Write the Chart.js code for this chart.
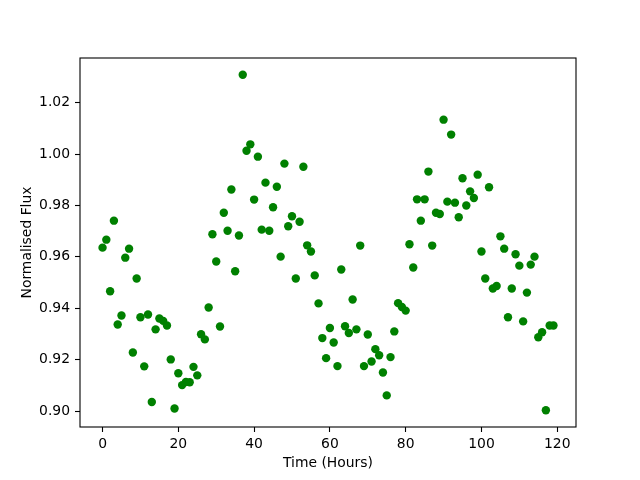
<!DOCTYPE html>
<html>
<head>
<meta charset="utf-8">
<script src="https://cdn.jsdelivr.net/npm/chart.js@4"></script>
<style>
  html, body { margin: 0; padding: 0; background: #fff; }
  #wrap { width: 640px; height: 480px; }
</style>
</head>
<body>
<div id="wrap"><canvas id="grafico" width="640" height="480"></canvas></div>
<script>
// time of each measurement (hours)
const horas = [
  0, 1, 2, 3, 4, 5, 6, 7, 8, 9, 10, 11, 12, 13, 14, 15, 16, 17, 18, 19,
  20, 21, 22, 23, 24, 25, 26, 27, 28, 29, 30, 31, 32, 33, 34, 35, 36, 37, 38, 39,
  40, 41, 42, 43, 44, 45, 46, 47, 48, 49, 50, 51, 52, 53, 54, 55, 56, 57, 58, 59,
  60, 61, 62, 63, 64, 65, 66, 67, 68, 69, 70, 71, 72, 73, 74, 75, 76, 77, 78, 79,
  80, 81, 82, 83, 84, 85, 86, 87, 88, 89, 90, 91, 92, 93, 94, 95, 96, 97, 98, 99,
  100, 101, 102, 103, 104, 105, 106, 107, 108, 109, 110, 111, 112, 113, 114, 115, 116, 117, 118, 119
]

// normalised flux
const fluxo = [
  0.9636, 0.9667, 0.9466, 0.9741, 0.9337, 0.9372, 0.9597, 0.9632, 0.9228, 0.9516,
  0.9365, 0.9174, 0.9376, 0.9035, 0.9318, 0.9360, 0.9351, 0.9333, 0.9201, 0.9010,
  0.9147, 0.9101, 0.9113, 0.9112, 0.9172, 0.9139, 0.9299, 0.9279, 0.9403, 0.9688,
  0.9582, 0.9329, 0.9772, 0.9702, 0.9862, 0.9544, 0.9683, 1.0309, 1.0013, 1.0038,
  0.9823, 0.9990, 0.9706, 0.9889, 0.9702, 0.9793, 0.9873, 0.9601, 0.9963, 0.9719,
  0.9758, 0.9516, 0.9737, 0.9951, 0.9645, 0.9621, 0.9528, 0.9419, 0.9284, 0.9206,
  0.9323, 0.9267, 0.9175, 0.9551, 0.9330, 0.9304, 0.9434, 0.9318, 0.9644, 0.9175,
  0.9298, 0.9193, 0.9241, 0.9217, 0.9150, 0.9061, 0.9210, 0.9310, 0.9420, 0.9405,
  0.9391, 0.9649, 0.9559, 0.9824, 0.9741, 0.9824, 0.9932, 0.9644, 0.9772, 0.9767,
  1.0134, 0.9815, 1.0076, 0.9811, 0.9754, 0.9906, 0.9800, 0.9855, 0.9829, 0.9920,
  0.9621, 0.9516, 0.9871, 0.9477, 0.9487, 0.9680, 0.9632, 0.9365, 0.9477, 0.9610,
  0.9566, 0.9349, 0.9461, 0.9570, 0.9601, 0.9287, 0.9307, 0.9003, 0.9333, 0.9333
]

const ticksX = [0, 20, 40, 60, 80, 100, 120]
const ticksY = [0.90, 0.92, 0.94, 0.96, 0.98, 1.00, 1.02]

const pontos = horas.map((h, i) => ({ x: h, y: fluxo[i] }))

const fonte = { family: 'DejaVu Sans', size: 13.9 }

// matplotlib style box around the plot area
const moldura = {
  id: 'moldura',
  afterDraw(chart) {
    const { ctx, chartArea: a } = chart
    ctx.save()
    ctx.strokeStyle = '#000'
    ctx.lineWidth = 1.1
    ctx.strokeRect(a.left, a.top, a.right - a.left, a.bottom - a.top)
    ctx.restore()
  }
}

const context = document.querySelector('#grafico').getContext('2d')

new Chart(context, {
  type: 'scatter',
  data: {
    datasets: [{
      data: pontos,
      backgroundColor: '#008000',
      borderColor: '#008000',
      borderWidth: 0,
      pointRadius: 4.2,
      pointHoverRadius: 4.2
    }]
  },
  options: {
    responsive: false,
    animation: false,
    events: [],
    layout: { padding: { top: 58, right: 64, left: 0, bottom: 0 } },
    plugins: { legend: { display: false }, tooltip: { enabled: false } },
    scales: {
      x: {
        type: 'linear',
        min: -5.95,
        max: 124.95,
        afterFit: (s) => { s.height = 53 },
        afterBuildTicks: (s) => { s.ticks = ticksX.map(v => ({ value: v })) },
        border: { display: false },
        grid: { drawOnChartArea: false, drawTicks: true, tickLength: 5, tickColor: '#000', tickWidth: 1.1 },
        ticks: { color: '#000', font: fonte, padding: 4, maxRotation: 0, callback: (v) => String(v) },
        title: { display: true, text: 'Time (Hours)', color: '#000', font: fonte, padding: { top: 0, bottom: 8.7 } }
      },
      y: {
        type: 'linear',
        min: 0.8938,
        max: 1.0374,
        afterFit: (s) => { s.width = 80 },
        afterBuildTicks: (s) => { s.ticks = ticksY.map(v => ({ value: v })) },
        border: { display: false },
        grid: { drawOnChartArea: false, drawTicks: true, tickLength: 5, tickColor: '#000', tickWidth: 1.1 },
        ticks: { color: '#000', font: fonte, padding: 5, callback: (v) => Number(v).toFixed(2) },
        title: { display: true, text: 'Normalised Flux', color: '#000', font: fonte, padding: { top: 18.7, bottom: 0 } }
      }
    }
  },
  plugins: [moldura]
})
</script>
</body>
</html>
